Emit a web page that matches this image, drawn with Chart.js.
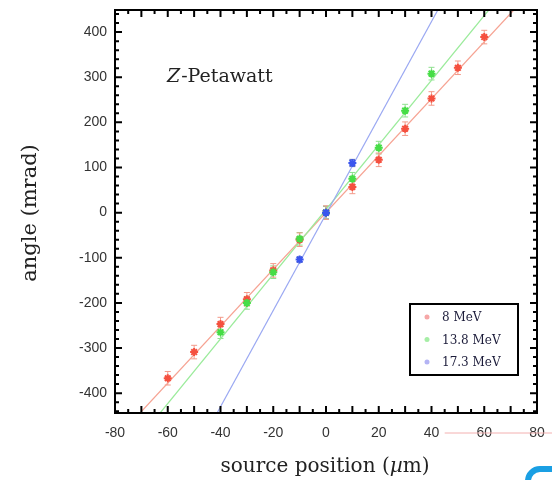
<!DOCTYPE html>
<html>
<head>
<meta charset="utf-8">
<script src="https://cdn.jsdelivr.net/npm/chart.js@4.4.1/dist/chart.umd.min.js"></script>
<style>
  html, body { margin: 0; padding: 0; background: #fff; }
</style>
</head>
<body>
<canvas id="chart" width="552" height="480"></canvas>
<script>
// axis ticks
const xTickValues = [-80, -60, -40, -20, 0, 20, 40, 60, 80];
const yTickValues = [-400, -300, -200, -100, 0, 100, 200, 300, 400];

// 8 MeV
const redX = [-60, -50, -40, -30, -20, -10, 0, 10, 20, 30, 40, 50, 60];
const redY = [-367, -309, -247, -192, -128, -60, 0, 57, 117, 186, 253, 321, 389];
const redErr = [15, 15, 15, 15, 15, 15, 15, 15, 15, 15, 15, 15, 15];
const redFitX = [-70.5, 71.2];
const redFitY = [-444, 449];

// 13.8 MeV
const greenX = [-40, -30, -20, -10, 0, 10, 20, 30, 40];
const greenY = [-265, -200, -132, -58, 0, 75, 144, 226, 308];
const greenErr = [14, 14, 14, 14, 14, 14, 14, 14, 14];
const greenFitX = [-62.9, 61.7];
const greenFitY = [-444, 449];

// 17.3 MeV
const blueX = [-10, 0, 10];
const blueY = [-104, 0, 110];
const blueErr = [6, 14, 8];
const blueFitX = [-41.3, 42.4];
const blueFitY = [-444, 449];

const seriesLabels = ['8 MeV', '13.8 MeV', '17.3 MeV'];
const pointColors = ['#f5503f', '#46dd46', '#3a55ee'];
const lineColors = ['#f6a393', '#9beb9b', '#9aa8f2'];
const errColors = ['#f39a8a', '#8fe08f', '#5a6ab0'];
const legendDotColors = ['#f6a7a7', '#a6eea6', '#b4b4f4'];

const toPts = (xs, ys) => xs.map((v, i) => ({ x: v, y: ys[i] }));

function pointSet(i, xs, ys, errs) {
    return {
        type: 'scatter',
        label: seriesLabels[i],
        data: toPts(xs, ys),
        errY: errs,
        errColor: errColors[i],
        pointStyle: 'star',
        pointRadius: 4,
        borderWidth: 2,
        borderColor: pointColors[i],
        backgroundColor: pointColors[i],
        showLine: false
    };
}

function fitSet(i, xs, ys) {
    return {
        type: 'line',
        label: seriesLabels[i] + ' fit',
        data: toPts(xs, ys),
        borderColor: lineColors[i],
        borderWidth: 1.2,
        pointRadius: 0,
        fill: false
    };
}

// kill the auto label overflow padding so the frame sits where we want it
function noPad(s) {
    s.paddingTop = 0; s.paddingBottom = 0;
    s.paddingLeft = 0; s.paddingRight = 0;
}

const decor = {
    id: 'decor',
    beforeDatasetsDraw(chart) {
        const { ctx, scales: { y } } = chart;
        ctx.save();
        ctx.lineWidth = 1;
        chart.data.datasets.forEach((ds, i) => {
            if (!ds.errY) return;
            const meta = chart.getDatasetMeta(i);
            ctx.strokeStyle = ds.errColor;
            meta.data.forEach((pt, j) => {
                const v = ds.data[j].y;
                const y1 = y.getPixelForValue(v + ds.errY[j]);
                const y2 = y.getPixelForValue(v - ds.errY[j]);
                ctx.beginPath();
                ctx.moveTo(pt.x, y1); ctx.lineTo(pt.x, y2);
                ctx.moveTo(pt.x - 3, y1); ctx.lineTo(pt.x + 3, y1);
                ctx.moveTo(pt.x - 3, y2); ctx.lineTo(pt.x + 3, y2);
                ctx.stroke();
            });
        });
        ctx.restore();
    },
    afterDraw(chart) {
        const { ctx, chartArea: a, scales: { x, y } } = chart;
        ctx.save();

        // frame
        ctx.strokeStyle = '#000';
        ctx.lineWidth = 2;
        ctx.strokeRect(a.left, a.top, a.right - a.left, a.bottom - a.top);

        // inward ticks
        ctx.beginPath();
        for (let v = -80; v <= 80; v += 5) {
            const px = x.getPixelForValue(v);
            const len = v % 10 === 0 ? 7 : 4;
            ctx.moveTo(px, a.bottom); ctx.lineTo(px, a.bottom - len);
            ctx.moveTo(px, a.top); ctx.lineTo(px, a.top + len);
        }
        for (let v = -440; v <= 440; v += 20) {
            const py = y.getPixelForValue(v);
            const len = v % 100 === 0 ? 7 : 4;
            ctx.moveTo(a.left, py); ctx.lineTo(a.left + len, py);
            ctx.moveTo(a.right, py); ctx.lineTo(a.right - len, py);
        }
        ctx.stroke();

        // axis titles
        const F = '20px "DejaVu Serif"', FI = 'italic 20px "DejaVu Serif"';
        ctx.fillStyle = '#222';
        ctx.textBaseline = 'alphabetic';
        const t1 = 'source position (', t2 = '\u00b5', t3 = 'm)';
        ctx.font = F;
        const w1 = ctx.measureText(t1).width;
        const w3 = ctx.measureText(t3).width;
        ctx.font = FI;
        const w2 = ctx.measureText(t2).width;
        const sx = 325 - (w1 + w2 + w3) / 2;
        ctx.textAlign = 'left';
        ctx.font = F;
        ctx.fillText(t1, sx, 472);
        ctx.font = FI;
        ctx.fillText(t2, sx + w1, 472);
        ctx.font = F;
        ctx.fillText(t3, sx + w1 + w2, 472);

        ctx.save();
        ctx.translate(31, 213);
        ctx.rotate(-Math.PI / 2);
        ctx.textAlign = 'center';
        ctx.textBaseline = 'middle';
        ctx.font = '21px "DejaVu Serif"';
        ctx.fillText('angle (mrad)', 0, 0);
        ctx.restore();

        // annotation
        ctx.textAlign = 'left';
        ctx.font = 'italic 19px "DejaVu Serif"';
        ctx.fillText('Z', 167, 82);
        const zw = ctx.measureText('Z').width;
        ctx.font = '19px "DejaVu Serif"';
        ctx.fillText('-Petawatt', 167 + zw + 1, 82);

        // legend
        ctx.lineWidth = 2;
        ctx.strokeRect(410, 304, 108, 71);
        ctx.font = '12px "DejaVu Serif"';
        ctx.textBaseline = 'middle';
        seriesLabels.forEach((lab, i) => {
            const ly = 317 + i * 22.5;
            ctx.fillStyle = legendDotColors[i];
            ctx.beginPath();
            ctx.arc(427, ly, 2.5, 0, Math.PI * 2);
            ctx.fill();
            ctx.fillStyle = '#1c1c3a';
            ctx.fillText(lab, 442, ly + 1);
        });

        // stray bits from the source image
        ctx.strokeStyle = '#f3b0b0';
        ctx.lineWidth = 1;
        ctx.beginPath();
        ctx.moveTo(x.getPixelForValue(45), 433);
        ctx.lineTo(552, 433);
        ctx.stroke();
        ctx.strokeStyle = '#1a9fe3';
        ctx.lineWidth = 6;
        ctx.beginPath();
        ctx.roundRect(528, 469, 60, 40, 12);
        ctx.stroke();

        ctx.restore();
    }
};

new Chart(document.getElementById('chart'), {
    data: {
        datasets: [
            pointSet(2, blueX, blueY, blueErr),
            pointSet(1, greenX, greenY, greenErr),
            pointSet(0, redX, redY, redErr),
            fitSet(2, blueFitX, blueFitY),
            fitSet(1, greenFitX, greenFitY),
            fitSet(0, redFitX, redFitY)
        ]
    },
    options: {
        responsive: false,
        animation: false,
        layout: { padding: { top: 10, right: 15, left: 0, bottom: 0 } },
        plugins: { legend: { display: false }, tooltip: { enabled: false } },
        scales: {
            x: {
                type: 'linear',
                min: -80,
                max: 80,
                afterBuildTicks: s => { s.ticks = xTickValues.map(v => ({ value: v })); },
                afterFit: s => { s.height = 67; noPad(s); },
                grid: { display: false, drawTicks: false },
                border: { display: false },
                ticks: {
                    padding: 12,
                    color: '#333',
                    font: { family: '"Liberation Sans"', size: 14 },
                    maxRotation: 0
                }
            },
            y: {
                type: 'linear',
                min: -444,
                max: 449,
                afterBuildTicks: s => { s.ticks = yTickValues.map(v => ({ value: v })); },
                afterFit: s => { s.width = 115; noPad(s); },
                grid: { display: false, drawTicks: false },
                border: { display: false },
                ticks: {
                    padding: 8,
                    color: '#333',
                    font: { family: '"Liberation Sans"', size: 14 }
                }
            }
        }
    },
    plugins: [decor]
});
</script>
</body>
</html>
